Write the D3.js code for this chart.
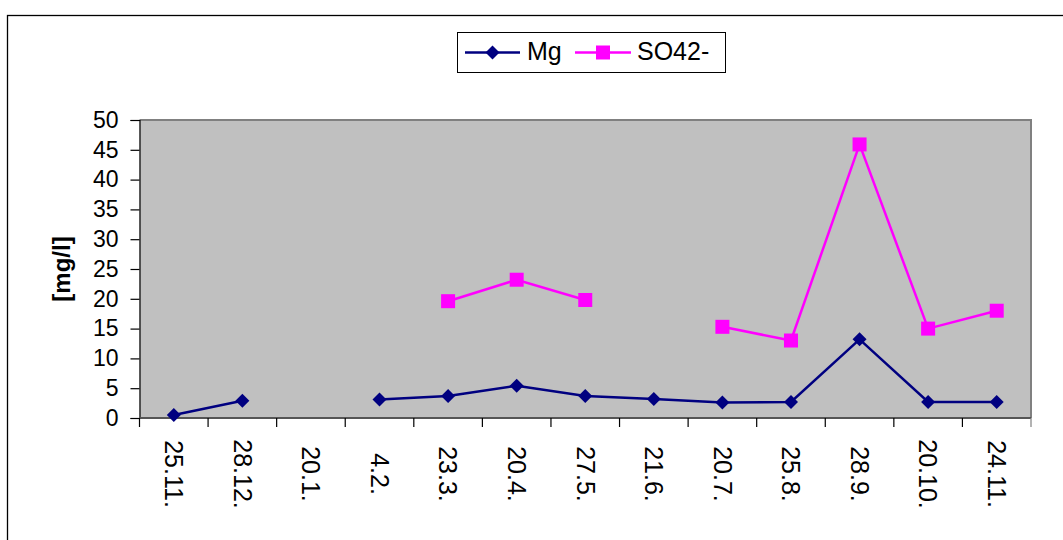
<!DOCTYPE html>
<html><head><meta charset="utf-8">
<script src="https://cdn.jsdelivr.net/npm/d3@7"></script>
<style>body{margin:0;background:#fff}svg{display:block}text{font-family:"Liberation Sans",Arial,sans-serif}</style>
</head><body><svg id="c" width="1063" height="540"></svg>
<script>
const categories = ["25.11.","28.12.","20.1.","4.2.","23.3.","20.4.","27.5.","21.6.","20.7.","25.8.","28.9.","20.10.","24.11."];
const mgValues = [0.5, 2.9, null, 3.1, 3.7, 5.4, 3.7, 3.2, 2.6, 2.7, 13.2, 2.7, 2.7];
const so4Values = [null, null, null, null, 19.6, 23.2, 19.8, null, 15.3, 13.0, 45.9, 15.0, 18.0];
const yTicks = [0,5,10,15,20,25,30,35,40,45,50];
const seriesNames = ["Mg","SO42-"];

const svg = d3.select("#c");
const L = 139.5, R = 1031, T = 120, B = 418;

svg.append("rect").attr("x",7.5).attr("y",15.5).attr("width",1060).attr("height",540)
  .attr("fill","#fff").attr("stroke","#000").attr("stroke-width",1.3);

const x = d3.scaleBand().domain(categories).range([L,R]).padding(0);
const y = d3.scaleLinear().domain([0,50]).range([B,T]);

svg.append("rect").attr("x",L).attr("y",T).attr("width",R-L).attr("height",B-T).attr("fill","#c0c0c0");
svg.append("path").attr("d",`M${L},${T}H${R}V${B}`).attr("fill","none").attr("stroke","#808080").attr("stroke-width",2);

// y axis
const ya = svg.append("g").attr("transform",`translate(${L},0)`)
  .call(d3.axisLeft(y).tickValues(yTicks).tickSize(9).tickPadding(12));
ya.select(".domain").attr("stroke","#000").attr("stroke-width",1.2);
ya.selectAll(".tick line").attr("stroke","#000").attr("stroke-width",1.2);
ya.selectAll(".tick text").attr("font-size",23).attr("fill","#000").attr("font-family","Liberation Sans, Arial, sans-serif");

// x axis
svg.append("line").attr("x1",L).attr("x2",R).attr("y1",B).attr("y2",B).attr("stroke","#555").attr("stroke-width",2);
const tickPos = categories.map(c=>x(c)).concat([R]);
svg.selectAll(".xt").data(tickPos).enter().append("line")
  .attr("x1",d=>d).attr("x2",d=>d).attr("y1",B).attr("y2",B+9)
  .attr("stroke",(d,i)=> i===tickPos.length-1 ? "#808080" : "#000").attr("stroke-width",1.2);
svg.selectAll(".xl").data(categories).enter().append("text")
  .attr("transform",d=>`translate(${x(d)+x.bandwidth()/2},474) rotate(90)`)
  .attr("text-anchor","middle").attr("dy","0.35em").attr("font-size",25).attr("fill","#000").text(d=>d);

// y title
svg.append("text").attr("transform",`translate(62,269) rotate(-90)`).attr("text-anchor","middle")
  .attr("dy","0.35em").attr("font-size",24).attr("font-weight","bold").text("[mg/l]");

const line = d3.line().defined(d=>d.v!=null).x(d=>x(d.c)+x.bandwidth()/2).y(d=>y(d.v));
const mg = categories.map((c,i)=>({c,v:mgValues[i]}));
const so = categories.map((c,i)=>({c,v:so4Values[i]}));
const MG="#000080", SO="#ff00ff";
const diamond = (cx,cy,s)=>`M${cx},${cy-s}L${cx+s},${cy}L${cx},${cy+s}L${cx-s},${cy}Z`;

svg.append("path").datum(so).attr("d",line).attr("fill","none").attr("stroke",SO).attr("stroke-width",2.5);
svg.selectAll(".so").data(so.filter(d=>d.v!=null)).enter().append("rect")
  .attr("x",d=>x(d.c)+x.bandwidth()/2-7).attr("y",d=>y(d.v)-7).attr("width",14).attr("height",14).attr("fill",SO);

svg.append("path").datum(mg).attr("d",line).attr("fill","none").attr("stroke",MG).attr("stroke-width",2.5);
svg.selectAll(".mg").data(mg.filter(d=>d.v!=null)).enter().append("path")
  .attr("d",d=>diamond(x(d.c)+x.bandwidth()/2,y(d.v),7)).attr("fill",MG);

// legend
const lg = svg.append("g");
lg.append("rect").attr("x",457.5).attr("y",32.5).attr("width",268).attr("height",40).attr("fill","#fff").attr("stroke","#000").attr("stroke-width",1);
lg.append("line").attr("x1",465).attr("x2",520).attr("y1",52.5).attr("y2",52.5).attr("stroke",MG).attr("stroke-width",2.5);
lg.append("path").attr("d",diamond(492.5,52.5,7)).attr("fill",MG);
lg.append("text").attr("x",527).attr("y",60).attr("font-size",25).text(seriesNames[0]);
lg.append("line").attr("x1",575).attr("x2",631).attr("y1",52.5).attr("y2",52.5).attr("stroke",SO).attr("stroke-width",2.5);
lg.append("rect").attr("x",596).attr("y",45.5).attr("width",14).attr("height",14).attr("fill",SO);
lg.append("text").attr("x",637).attr("y",60).attr("font-size",25).text(seriesNames[1]);
</script></body></html>
